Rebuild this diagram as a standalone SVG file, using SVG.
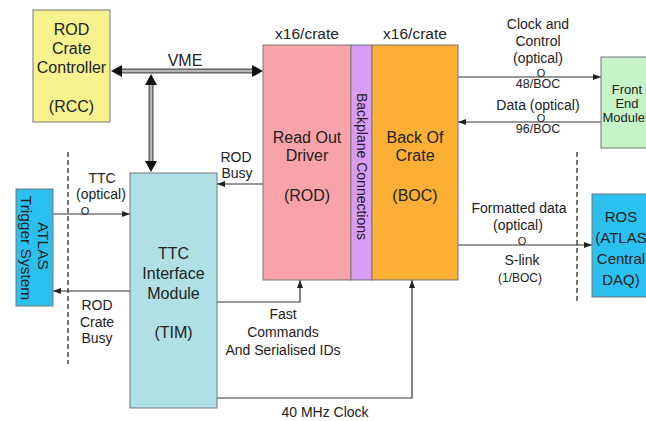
<svg xmlns="http://www.w3.org/2000/svg" width="646" height="421" viewBox="0 0 646 421">
  <style>
    text { font-family: "Liberation Sans", Arial, sans-serif; fill: #222; text-anchor: middle; }
    .box { stroke: #777; stroke-width: 1; }
    .lbl { font-size: 16px; }
    .con { font-size: 14px; }
    .sm { font-size: 12.5px; }
    .oo { font-size: 11px; }
    .wire { fill: none; stroke: #333; stroke-width: 1.2; }
    .dash { fill: none; stroke: #555; stroke-width: 1.6; stroke-dasharray: 5 3; }
    .busO { fill: none; stroke: #555; stroke-width: 5; }
    .busI { fill: none; stroke: #b5b5b5; stroke-width: 2.4; }
  </style>
  <defs>
    <marker id="arr" viewBox="0 0 8 6" refX="8" refY="3" markerWidth="8" markerHeight="6" markerUnits="userSpaceOnUse" orient="auto">
      <path d="M0,0 L8,3 L0,6 Z" fill="#222"/>
    </marker>
  </defs>

  <rect width="646" height="421" fill="#ffffff"/>

  <!-- boundary lines -->
  <g id="boundaries">
    <line class="dash" x1="68" y1="152" x2="68" y2="364"/>
    <line class="dash" x1="577" y1="152" x2="577" y2="304"/>
  </g>

  <!-- connectors -->
  <g id="connectors">
    <!-- VME bus -->
    <line class="busO" x1="120" y1="71" x2="254" y2="71"/>
    <line class="busI" x1="120" y1="71" x2="254" y2="71"/>
    <line class="busO" x1="151" y1="83" x2="151" y2="163"/>
    <line class="busI" x1="151" y1="83" x2="151" y2="163"/>
    <path d="M111,71 L122,65 L122,77 Z" fill="#111"/>
    <path d="M263,71 L252,65 L252,77 Z" fill="#111"/>
    <path d="M151,74 L145,85 L157,85 Z" fill="#111"/>
    <path d="M151,172 L145,161 L157,161 Z" fill="#111"/>

    <line class="wire" x1="458" y1="77" x2="601" y2="77" marker-end="url(#arr)"/>
    <line class="wire" x1="601" y1="122" x2="458" y2="122" marker-end="url(#arr)"/>
    <line class="wire" x1="458" y1="245" x2="592" y2="245" marker-end="url(#arr)"/>
    <line class="wire" x1="53" y1="214" x2="130" y2="214" marker-end="url(#arr)"/>
    <line class="wire" x1="130" y1="291" x2="53" y2="291" marker-end="url(#arr)"/>
    <line class="wire" x1="263" y1="184" x2="217" y2="184" marker-end="url(#arr)"/>
    <polyline class="wire" points="217,302 300,302 300,280" marker-end="url(#arr)"/>
    <polyline class="wire" points="217,398 412,398 412,280" marker-end="url(#arr)"/>
  </g>

  <!-- connector labels -->
  <g id="connector-labels">
    <text class="lbl" x="185" y="66">VME</text>
    <text class="lbl" x="307" y="39" style="font-size:15.5px">x16/crate</text>
    <text class="lbl" x="415" y="39" style="font-size:15.5px">x16/crate</text>

    <text class="con" x="538" y="29">Clock and</text>
    <text class="con" x="538" y="46">Control</text>
    <text class="con" x="538" y="63">(optical)</text>
    <text class="oo" x="541" y="77">O</text>
    <text class="sm" x="538" y="88">48/BOC</text>

    <text class="con" x="538" y="110">Data (optical)</text>
    <text class="oo" x="541" y="122">O</text>
    <text class="sm" x="538" y="133">96/BOC</text>

    <text class="con" x="519" y="213">Formatted data</text>
    <text class="con" x="518" y="230">(optical)</text>
    <text class="oo" x="522" y="245">O</text>
    <text class="con" x="522" y="265">S-link</text>
    <text class="sm" x="520" y="282" style="font-size:12px">(1/BOC)</text>

    <text class="con" x="102" y="183">TTC</text>
    <text class="con" x="101" y="199">(optical)</text>
    <text class="oo" x="85" y="215">O</text>

    <text class="con" x="97" y="310">ROD</text>
    <text class="con" x="97" y="327">Crate</text>
    <text class="con" x="97" y="343">Busy</text>

    <text class="con" x="236" y="162">ROD</text>
    <text class="con" x="237" y="178">Busy</text>

    <text class="con" x="283" y="319">Fast</text>
    <text class="con" x="283" y="337">Commands</text>
    <text class="con" x="283" y="355">And Serialised IDs</text>

    <text class="con" x="325" y="417">40 MHz Clock</text>
  </g>

  <!-- nodes -->
  <g id="rcc">
    <rect class="box" x="33" y="10" width="77" height="112" fill="#f6f28d"/>
    <text class="lbl" x="71.5" y="35">ROD</text>
    <text class="lbl" x="71.5" y="54">Crate</text>
    <text class="lbl" x="71.5" y="73">Controller</text>
    <text class="lbl" x="71.5" y="112">(RCC)</text>
  </g>

  <g id="rod">
    <rect class="box" x="263" y="45" width="88" height="235" fill="#f8a2aa"/>
    <text class="lbl" x="307" y="143">Read Out</text>
    <text class="lbl" x="307" y="161">Driver</text>
    <text class="lbl" x="307" y="201">(ROD)</text>
  </g>

  <g id="backplane">
    <rect class="box" x="351" y="45" width="21" height="235" fill="#d99cf5"/>
    <text class="con" transform="translate(357,166.5) rotate(90)" x="0" y="0">Backplane Connections</text>
  </g>

  <g id="boc">
    <rect class="box" x="372" y="45" width="86" height="235" fill="#fbb035"/>
    <text class="lbl" x="415" y="143">Back Of</text>
    <text class="lbl" x="415" y="161">Crate</text>
    <text class="lbl" x="415" y="201">(BOC)</text>
  </g>

  <g id="front-end">
    <rect class="box" x="601" y="57" width="60" height="91" fill="#c6f3c8"/>
    <text x="627" y="94" style="font-size:13px">Front</text>
    <text x="627" y="108" style="font-size:13px">End</text>
    <text x="627" y="122" style="font-size:13px">Modules</text>
  </g>

  <g id="ros">
    <rect class="box" x="592" y="194" width="70" height="103" fill="#2cc0ef"/>
    <text x="621" y="222" style="font-size:15px">ROS</text>
    <text x="621" y="243" style="font-size:15px">(ATLAS</text>
    <text x="621" y="264" style="font-size:15px">Central</text>
    <text x="621" y="285" style="font-size:15px">DAQ)</text>
  </g>

  <g id="trigger">
    <rect class="box" x="16" y="189" width="37" height="117" fill="#2cc0ef"/>
    <text transform="translate(38,248) rotate(90)" style="font-size:15.5px">
      <tspan x="0" y="0">ATLAS</tspan>
      <tspan x="0" y="17">Trigger System</tspan>
    </text>
  </g>

  <g id="tim">
    <rect class="box" x="130" y="173" width="87" height="235" fill="#aee0e5"/>
    <text class="lbl" x="173.5" y="259">TTC</text>
    <text class="lbl" x="173.5" y="279">Interface</text>
    <text class="lbl" x="173.5" y="299">Module</text>
    <text class="lbl" x="173.5" y="338">(TIM)</text>
  </g>
</svg>
